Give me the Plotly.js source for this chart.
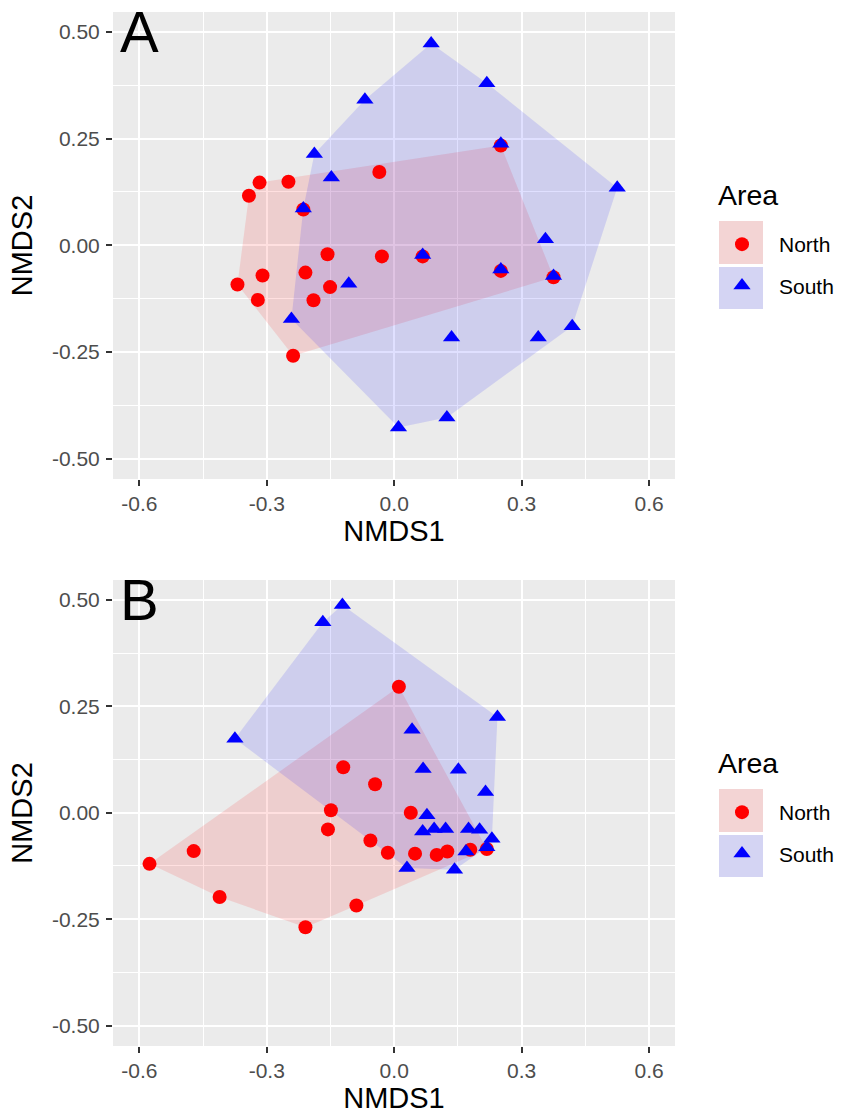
<!DOCTYPE html>
<html>
<head>
<meta charset="utf-8">
<script src="https://cdn.plot.ly/plotly-3.0.1.min.js"></script>
<style>html,body{margin:0;padding:0;background:#fff;}#chart{width:842px;height:1115px;}</style>
</head>
<body>
<div id="chart"></div>
<script>
// ---------- Data ----------
const groups = ["North", "South"];
const legendTitle = "Area";

// Panel A
const A_north_x = [-0.317, -0.249, -0.342, -0.035, -0.214, 0.251, -0.157, -0.029, 0.067, 0.251, 0.375, -0.310, -0.209, -0.369, -0.151, -0.321, -0.190, -0.238];
const A_north_y = [0.147, 0.149, 0.116, 0.172, 0.084, 0.234, -0.021, -0.026, -0.026, -0.060, -0.075, -0.071, -0.064, -0.092, -0.098, -0.128, -0.129, -0.259];
const A_south_x = [0.087, 0.218, -0.069, 0.251, -0.188, -0.148, 0.525, -0.214, 0.356, 0.067, 0.251, 0.375, -0.107, -0.242, 0.135, 0.339, 0.419, 0.124, 0.010];
const A_south_y = [0.473, 0.380, 0.341, 0.238, 0.214, 0.159, 0.135, 0.086, 0.014, -0.023, -0.057, -0.072, -0.090, -0.173, -0.216, -0.216, -0.190, -0.404, -0.427];

// Panel B
const B_north_x = [0.011, -0.120, -0.045, -0.149, 0.039, -0.156, -0.056, -0.015, 0.049, 0.100, 0.125, 0.179, 0.218, -0.472, -0.576, -0.411, -0.089, -0.209];
const B_north_y = [0.296, 0.107, 0.067, 0.006, 0.000, -0.039, -0.065, -0.094, -0.096, -0.099, -0.091, -0.087, -0.085, -0.090, -0.120, -0.198, -0.218, -0.269];
const B_south_x = [-0.122, -0.168, 0.243, 0.042, -0.375, 0.068, 0.151, 0.215, 0.077, 0.067, 0.094, 0.121, 0.175, 0.201, 0.230, 0.218, 0.169, 0.030, 0.142];
const B_south_y = [0.488, 0.448, 0.225, 0.195, 0.174, 0.103, 0.101, 0.049, -0.006, -0.044, -0.038, -0.038, -0.038, -0.040, -0.061, -0.081, -0.091, -0.130, -0.134];

const xTickVals = [-0.6, -0.3, 0.0, 0.3, 0.6];
const xTickText = ["-0.6", "-0.3", "0.0", "0.3", "0.6"];
const yTickVals = [-0.5, -0.25, 0.0, 0.25, 0.5];
const yTickText = ["-0.50", "-0.25", "0.00", "0.25", "0.50"];
const panelLabels = ["A", "B"];

// ---------- Helpers ----------
function hull(xs, ys) {
  const pts = xs.map((x, i) => [x, ys[i]]).sort((a, b) => a[0] - b[0] || a[1] - b[1]);
  const cross = (o, a, b) => (a[0] - o[0]) * (b[1] - o[1]) - (a[1] - o[1]) * (b[0] - o[0]);
  const lower = [], upper = [];
  for (const p of pts) { while (lower.length >= 2 && cross(lower[lower.length - 2], lower[lower.length - 1], p) <= 0) lower.pop(); lower.push(p); }
  for (let i = pts.length - 1; i >= 0; i--) { const p = pts[i]; while (upper.length >= 2 && cross(upper[upper.length - 2], upper[upper.length - 1], p) <= 0) upper.pop(); upper.push(p); }
  upper.pop(); lower.pop();
  const h = lower.concat(upper); h.push(h[0]);
  return { x: h.map(p => p[0]), y: h.map(p => p[1]) };
}

const FONT = "Liberation Sans, Arial, Helvetica, sans-serif";
const RED = "#FF0000", BLUE = "#0000FF";
const RED_FILL = "rgba(255,0,0,0.12)", BLUE_FILL = "rgba(0,0,255,0.12)";

const panels = [
  { nx: A_north_x, ny: A_north_y, sx: A_south_x, sy: A_south_y, xa: "x", ya: "y", lg: "legend" },
  { nx: B_north_x, ny: B_north_y, sx: B_south_x, sy: B_south_y, xa: "x2", ya: "y2", lg: "legend2" }
];

const traces = [];
panels.forEach(p => {
  const hn = hull(p.nx, p.ny), hs = hull(p.sx, p.sy);
  traces.push({ type: "scatter", mode: "lines", x: hn.x, y: hn.y, fill: "toself", fillcolor: RED_FILL, line: { width: 0, color: "rgba(0,0,0,0)" }, hoverinfo: "skip", showlegend: false, xaxis: p.xa, yaxis: p.ya });
  traces.push({ type: "scatter", mode: "lines", x: hs.x, y: hs.y, fill: "toself", fillcolor: BLUE_FILL, line: { width: 0, color: "rgba(0,0,0,0)" }, hoverinfo: "skip", showlegend: false, xaxis: p.xa, yaxis: p.ya });
});
panels.forEach(p => {
  traces.push({ type: "scatter", mode: "markers", name: groups[0], x: p.nx, y: p.ny, marker: { symbol: "circle", size: 14, color: RED }, xaxis: p.xa, yaxis: p.ya, legend: p.lg, legendgroup: p.lg + "n" });
  traces.push({ type: "scatter", mode: "markers", name: groups[1], x: p.sx, y: p.sy, marker: { symbol: "triangle-up", size: 15, color: BLUE }, xaxis: p.xa, yaxis: p.ya, legend: p.lg, legendgroup: p.lg + "s" });
});

// ---------- Layout ----------
const W = 842, H = 1115, ML = 113, MR = 167, MT = 12, MB = 69;
const PW = W - ML - MR, PH = H - MT - MB;
const px = v => (v - ML) / PW;              // pixel x -> paper
const py = v => (H - MB - v) / PH;          // pixel y -> paper

function xaxis(anchor) {
  return {
    anchor: anchor, domain: [0, 1], range: [-0.662, 0.661],
    tickvals: xTickVals, ticktext: xTickText,
    ticks: "outside", ticklen: 6, tickwidth: 2, tickcolor: "#333333",
    tickfont: { family: FONT, size: 21, color: "#4D4D4D" },
    showgrid: true, gridcolor: "#FFFFFF", gridwidth: 2, zeroline: false, showline: false,
    minor: { tick0: -0.45, dtick: 0.3, showgrid: true, gridcolor: "#FFFFFF", gridwidth: 1, ticks: "" },
    title: { text: "NMDS1", font: { family: FONT, size: 29, color: "#000000" }, standoff: 6 },
    fixedrange: true
  };
}
function yaxis(anchor, domain) {
  return {
    anchor: anchor, domain: domain, range: [-0.548, 0.547],
    tickvals: yTickVals, ticktext: yTickText,
    ticks: "outside", ticklen: 6, tickwidth: 2, tickcolor: "#333333",
    tickfont: { family: FONT, size: 21, color: "#4D4D4D" },
    ticklabelstandoff: 2,
    showgrid: true, gridcolor: "#FFFFFF", gridwidth: 2, zeroline: false, showline: false,
    minor: { tick0: -0.375, dtick: 0.25, showgrid: true, gridcolor: "#FFFFFF", gridwidth: 1, ticks: "" },
    title: { text: "NMDS2", font: { family: FONT, size: 29, color: "#000000" }, standoff: 10 },
    fixedrange: true
  };
}

function legendCfg(topPx) {
  return {
    x: px(705), xanchor: "left", y: py(topPx), yanchor: "top",
    bgcolor: "rgba(0,0,0,0)", borderwidth: 0,
    font: { family: FONT, size: 21, color: "#000000" },
    itemwidth: 64, traceorder: "grouped", tracegroupgap: 11,
    itemclick: false, itemdoubleclick: false
  };
}

const shapes = [];
[0, 568].forEach(off => {
  [[221, 264, RED_FILL], [267, 309, BLUE_FILL]].forEach(k => {
    const base = { type: "rect", xref: "paper", yref: "paper", x0: px(719), x1: px(763), y0: py(k[1] + off), y1: py(k[0] + off), line: { width: 0 }, layer: "above" };
    shapes.push(Object.assign({}, base, { fillcolor: "#F2F2F2" }));
    shapes.push(Object.assign({}, base, { fillcolor: k[2] }));
  });
});

const annotations = [];
[0, 568].forEach((off, i) => {
  annotations.push({ text: panelLabels[i], xref: "paper", yref: "paper", x: px(118), y: py(off - 3), xanchor: "left", yanchor: "top", showarrow: false, font: { family: FONT, size: 58, color: "#000000" } });
  annotations.push({ text: legendTitle, xref: "paper", yref: "paper", x: px(716), y: py(off + 195), xanchor: "left", yanchor: "middle", showarrow: false, font: { family: FONT, size: 28.5, color: "#000000" } });
});

const layout = {
  width: W, height: H,
  margin: { l: ML, r: MR, t: MT, b: MB, pad: 0, autoexpand: false },
  paper_bgcolor: "#FFFFFF", plot_bgcolor: "#EBEBEB",
  font: { family: FONT },
  xaxis: xaxis("y"), yaxis: yaxis("x", [py(479), 1]),
  xaxis2: xaxis("y2"), yaxis2: yaxis("x2", [0, py(580)]),
  legend: legendCfg(224), legend2: legendCfg(224 + 568),
  shapes: shapes, annotations: annotations,
  hovermode: false
};

Plotly.newPlot("chart", traces, layout, { displayModeBar: false, staticPlot: true });
</script>
</body>
</html>
